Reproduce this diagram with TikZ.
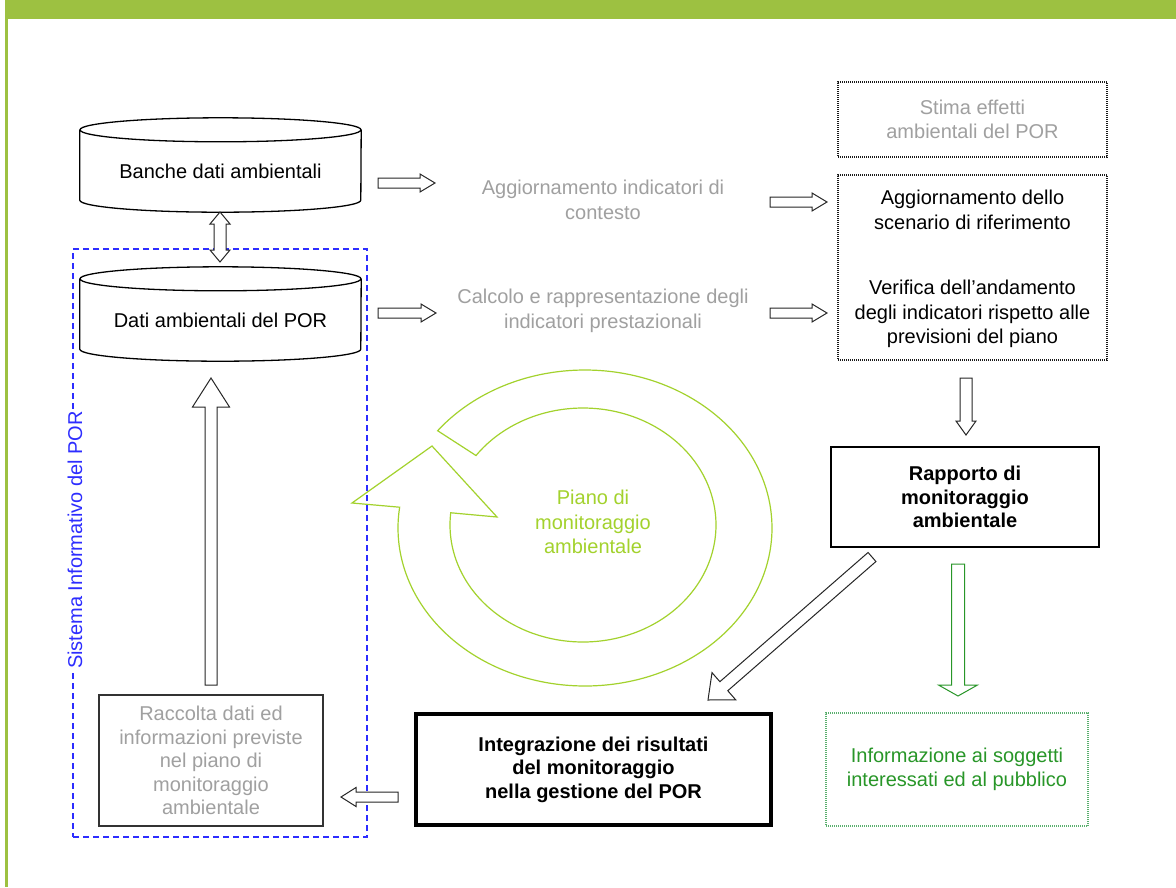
\documentclass[tikz,border=0pt]{standalone}
\usepackage{fontspec}
\setmainfont{Liberation Sans}
\usetikzlibrary{calc}
\definecolor{hdrgreen}{RGB}{157,193,65}
\definecolor{ringgreen}{RGB}{163,210,45}
\definecolor{infogreen}{RGB}{40,150,40}
\definecolor{dotgreen}{RGB}{90,175,110}
\definecolor{txtgray}{RGB}{160,160,160}
\definecolor{sysblue}{RGB}{45,45,255}
% block arrow: [opts]{start}{end}{shaft half width}{head half width}{head length}
\newcommand\blkarrow[6][]{%
  \coordinate (bahA) at ($(#3)!#6!(#2)$);
  \draw[blockarr,#1] ($(#2)!#4!90:(#3)$) -- ($(bahA)!#4!90:(#3)$) -- ($(bahA)!#5!90:(#3)$)
    -- (#3) -- ($(bahA)!#5!-90:(#3)$) -- ($(bahA)!#4!-90:(#3)$) -- ($(#2)!#4!-90:(#3)$) -- cycle;}
\newcommand\dblarrow[6][]{%
  \coordinate (bahA) at ($(#2)!#6!(#3)$);
  \coordinate (bahB) at ($(#3)!#6!(#2)$);
  \draw[blockarr,#1] (#2) -- ($(bahA)!#5!90:(#3)$) -- ($(bahA)!#4!90:(#3)$) -- ($(bahB)!#4!90:(#3)$)
    -- ($(bahB)!#5!90:(#3)$) -- (#3) -- ($(bahB)!#5!-90:(#3)$) -- ($(bahB)!#4!-90:(#3)$)
    -- ($(bahA)!#4!-90:(#3)$) -- ($(bahA)!#5!-90:(#3)$) -- cycle;}
\begin{document}
\begin{tikzpicture}[x=1pt,y=-1pt,
  font=\fontsize{20}{24.5}\selectfont,
  txt/.style={align=center, inner sep=0pt},
  graytxt/.style={txt, text=txtgray},
  cylbody/.style={minimum width=281pt, minimum height=82pt, inner sep=0pt, align=center},
  dotbox/.style={draw=black!90, line width=1.3pt, dash pattern=on 1pt off 1pt, minimum width=269pt, inner sep=0pt, align=center},
  blockarr/.style={draw=black!85, line width=1pt, fill=white, line join=miter},
  cylline/.style={draw=black, line width=1.3pt}]
\useasboundingbox (0,0) rectangle (1176,887);
\fill[white] (0,0) rectangle (1176,887);
% header band and left rule
\fill[hdrgreen] (5,0) rectangle (1176,19);
\fill[hdrgreen] (5,19) rectangle (7.5,887);

% system frame
\node[draw=sysblue, line width=1.6pt, dash pattern=on 6pt off 4pt, minimum width=294pt, minimum height=588pt, inner sep=0pt] (sysframe) at (220,543) {};
\node[rotate=90, fill=white, text=sysblue, inner sep=2pt] (syslabel) at (75,540) {Sistema Informativo del POR};

% cylinders
\node[cylbody] (cyl1) at (220.5,171) {Banche dati ambientali};
\node[cylbody] (cyl2) at (220.5,320) {Dati ambientali del POR};
\foreach \c in {cyl1,cyl2}{
  \draw[cylline] (\c.north) ellipse [x radius=140.5pt, y radius=12pt];
  \draw[cylline] (\c.north west) -- ([yshift=12pt]\c.south west)
     arc[start angle=180, end angle=360, x radius=140.5pt, y radius=12pt] -- (\c.north east);
}

% middle texts
\node[graytxt] (mid1) at (603,200) {Aggiornamento indicatori di\\contesto};
\node[graytxt] (mid2) at (603,311) {Calcolo e rappresentazione degli\\indicatori prestazionali};

% right boxes
\node[dotbox, minimum height=75pt, text=txtgray] (stima) at (972.5,119.5) {Stima effetti\\ambientali del POR};
\node[dotbox, minimum height=185pt] (bigbox) at (972.5,267.5) {};
\node[txt] (scen) at (972.5,210) {Aggiornamento dello\\scenario di riferimento};
\node[txt] (verif) at (972.5,314) {Verifica dell'andamento\\degli indicatori rispetto alle\\previsioni del piano};

\node[draw=black, line width=1.5pt, minimum width=268pt, minimum height=100pt, txt, font=\fontsize{20}{23.5}\selectfont\bfseries] (rapp) at (965,497) {Rapporto di\\monitoraggio\\ambientale};
\node[draw=black, line width=4pt, minimum width=355pt, minimum height=111pt, txt, font=\fontsize{20}{23.5}\selectfont\bfseries] (integ) at (593.5,769.5) {Integrazione dei risultati\\del monitoraggio\\nella gestione del POR};
\node[draw=dotgreen, line width=1.2pt, dash pattern=on 1pt off 1pt, minimum width=262pt, minimum height=113pt, txt, text=infogreen] (info) at (957,769.5) {Informazione ai soggetti\\interessati ed al pubblico};
\node[draw=black!80, line width=1.3pt, minimum width=224pt, minimum height=131pt, graytxt, font=\fontsize{20}{23.5}\selectfont] (racc) at (211,760.5) {Raccolta dati ed\\informazioni previste\\nel piano di\\monitoraggio\\ambientale};

% cycle arrow
\node[txt, text=ringgreen] (piano) at (593,522) {Piano di\\monitoraggio\\ambientale};
\draw[ringgreen, line width=1.2pt, line join=miter]
  plot[domain=0:1, samples=120, smooth] ({585+187*cos(142-330*\x)},{528-158*sin(142-330*\x)})
  -- (352,503) -- (432,446) -- (497,517)
  -- plot[domain=0:1, samples=120, smooth] ({583+133*cos(-186+330*\x)},{525-117*sin(-186+330*\x)})
  -- cycle;

% arrow end points
\coordinate (a1s) at (378,183); \coordinate (a1e) at (435,183);
\coordinate (a2s) at (378,313); \coordinate (a2e) at (436,313);
\coordinate (a3s) at (770,202); \coordinate (a3e) at (827,202);
\coordinate (a4s) at (770,313); \coordinate (a4e) at (827,313);
\coordinate (ups) at (211,685); \coordinate (upe) at (211,378);
\coordinate (dns) at (966,378); \coordinate (dne) at (966,435);
\coordinate (grs) at (958,564); \coordinate (gre) at (958,696);
\coordinate (lfs) at (398,797); \coordinate (lfe) at (341,797);
\coordinate (dgs) at (872,557); \coordinate (dge) at (708,700);
\coordinate (dbs) at (220,212); \coordinate (dbe) at (220,262);

\blkarrow{a1s}{a1e}{5pt}{9pt}{15pt}
\blkarrow{a2s}{a2e}{5pt}{9pt}{15pt}
\blkarrow{a3s}{a3e}{5pt}{9pt}{15pt}
\blkarrow{a4s}{a4e}{5pt}{9pt}{15pt}
\blkarrow{ups}{upe}{6pt}{18.5pt}{29pt}
\blkarrow{dns}{dne}{6pt}{10pt}{14pt}
\blkarrow[draw=infogreen]{grs}{gre}{6.5pt}{19.5pt}{11pt}
\blkarrow{lfs}{lfe}{5pt}{9.5pt}{15pt}
\blkarrow{dgs}{dge}{6pt}{18pt}{21pt}
\dblarrow{dbs}{dbe}{6pt}{10pt}{12pt}
\end{tikzpicture}
\end{document}
